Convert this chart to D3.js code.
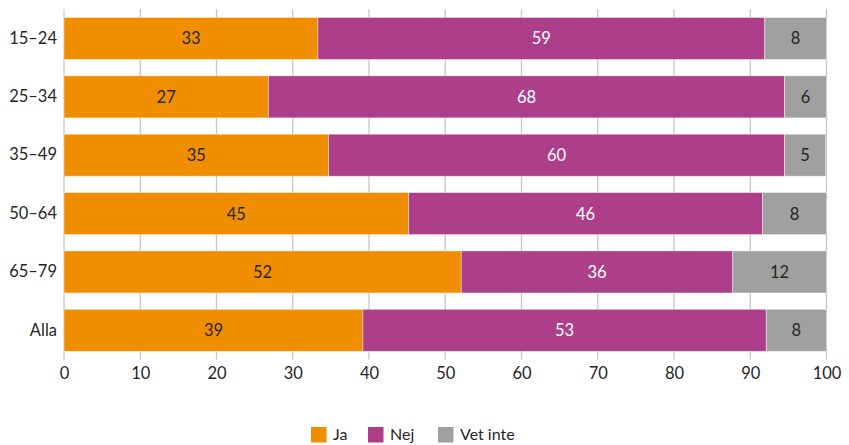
<!DOCTYPE html>
<html>
<head>
<meta charset="utf-8">
<script src="https://cdn.jsdelivr.net/npm/d3@7"></script>
<style>
  body { margin: 0; background: #fff; }
  text { font-family: Lato, "Open Sans", sans-serif; fill: #262626; }
</style>
</head>
<body>
<div id="wrapper"></div>
<script>
// data
const categories = ['15–24', '25–34', '35–49', '50–64', '65–79', 'Alla'];
const seriesNames = ['Ja', 'Nej', 'Vet inte'];
const ja = [33.3, 26.8, 34.7, 45.2, 52.1, 39.2];
const nej = [58.6, 67.7, 59.8, 46.4, 35.6, 52.9];
const vetInte = [8.1, 5.5, 5.4, 8.4, 12.3, 7.9];
const jaLabels = [33, 27, 35, 45, 52, 39];
const nejLabels = [59, 68, 60, 46, 36, 53];
const vetInteLabels = [8, 6, 5, 8, 12, 8];
const xTicks = [0, 10, 20, 30, 40, 50, 60, 70, 80, 90, 100];

const colors = ['#f18e00', '#ad3f8a', '#a0a0a1'];
const labelColors = ['#262626', '#ffffff', '#262626'];

const width = 849;
const height = 445;
const margin = { top: 9.3, right: 22.5, bottom: 85.5, left: 64 };
const boundedWidth = width - margin.left - margin.right;
const boundedHeight = height - margin.top - margin.bottom;

const rows = categories.map((c, i) => ({
    cat: c,
    'Ja': ja[i], 'Nej': nej[i], 'Vet inte': vetInte[i],
    labels: [jaLabels[i], nejLabels[i], vetInteLabels[i]]
}));
const stacked = d3.stack().keys(seriesNames)(rows);

const svg = d3.select('#wrapper').append('svg')
    .attr('width', width)
    .attr('height', height);

const bounds = svg.append('g')
    .attr('transform', `translate(${margin.left}, ${margin.top})`);

const xScale = d3.scaleLinear()
    .domain([0, 100])
    .range([0, boundedWidth]);

const yScale = d3.scaleBand()
    .domain(categories)
    .range([0, boundedHeight])
    .paddingInner(0.28)
    .paddingOuter(0.14);

// gridlines
bounds.append('g')
    .selectAll('line')
    .data(xTicks)
    .join('line')
    .attr('x1', d => xScale(d))
    .attr('x2', d => xScale(d))
    .attr('y1', 0)
    .attr('y2', boundedHeight)
    .attr('stroke', '#c6c6c6')
    .attr('stroke-width', 1.3);

// bars
const layers = bounds.selectAll('.layer')
    .data(stacked)
    .join('g')
    .attr('class', 'layer')
    .attr('fill', (d, i) => colors[i]);

layers.selectAll('rect')
    .data(d => d)
    .join('rect')
    .attr('x', d => xScale(d[0]))
    .attr('y', d => yScale(d.data.cat))
    .attr('width', d => xScale(d[1]) - xScale(d[0]))
    .attr('height', yScale.bandwidth())
    .attr('stroke', 'rgba(255,255,255,0.5)')
    .attr('stroke-width', 0.8);

// value labels
layers.selectAll('text')
    .data((d, i) => d.map(p => ({ p, i })))
    .join('text')
    .attr('x', d => xScale((d.p[0] + d.p[1]) / 2))
    .attr('y', d => yScale(d.p.data.cat) + yScale.bandwidth() / 2)
    .attr('dy', '0.36em')
    .attr('text-anchor', 'middle')
    .style('font-size', '16.5px')
    .style('fill', d => labelColors[d.i])
    .text(d => d.p.data.labels[d.i]);

// x axis
const xAxis = bounds.append('g')
    .attr('transform', `translate(0, ${boundedHeight})`)
    .call(d3.axisBottom(xScale).tickValues(xTicks).tickSize(0).tickPadding(8));
xAxis.select('.domain').remove();
xAxis.selectAll('text')
    .style('font-size', '16.5px')
    .style('fill', '#262626');

// y axis
const yAxis = bounds.append('g')
    .call(d3.axisLeft(yScale).tickSize(0).tickPadding(7));
yAxis.select('.domain').remove();
yAxis.selectAll('text')
    .style('font-size', '16.5px')
    .style('fill', '#262626');

// legend
const legendX = [311, 368, 438];
const legend = svg.append('g')
    .selectAll('g')
    .data(seriesNames)
    .join('g')
    .attr('transform', (d, i) => `translate(${legendX[i]}, 427)`);

legend.append('rect')
    .attr('width', 15.5)
    .attr('height', 15.5)
    .attr('fill', (d, i) => colors[i]);

legend.append('text')
    .attr('x', 22)
    .attr('y', 13)
    .style('font-size', '16px')
    .text(d => d);
</script>
</body>
</html>
